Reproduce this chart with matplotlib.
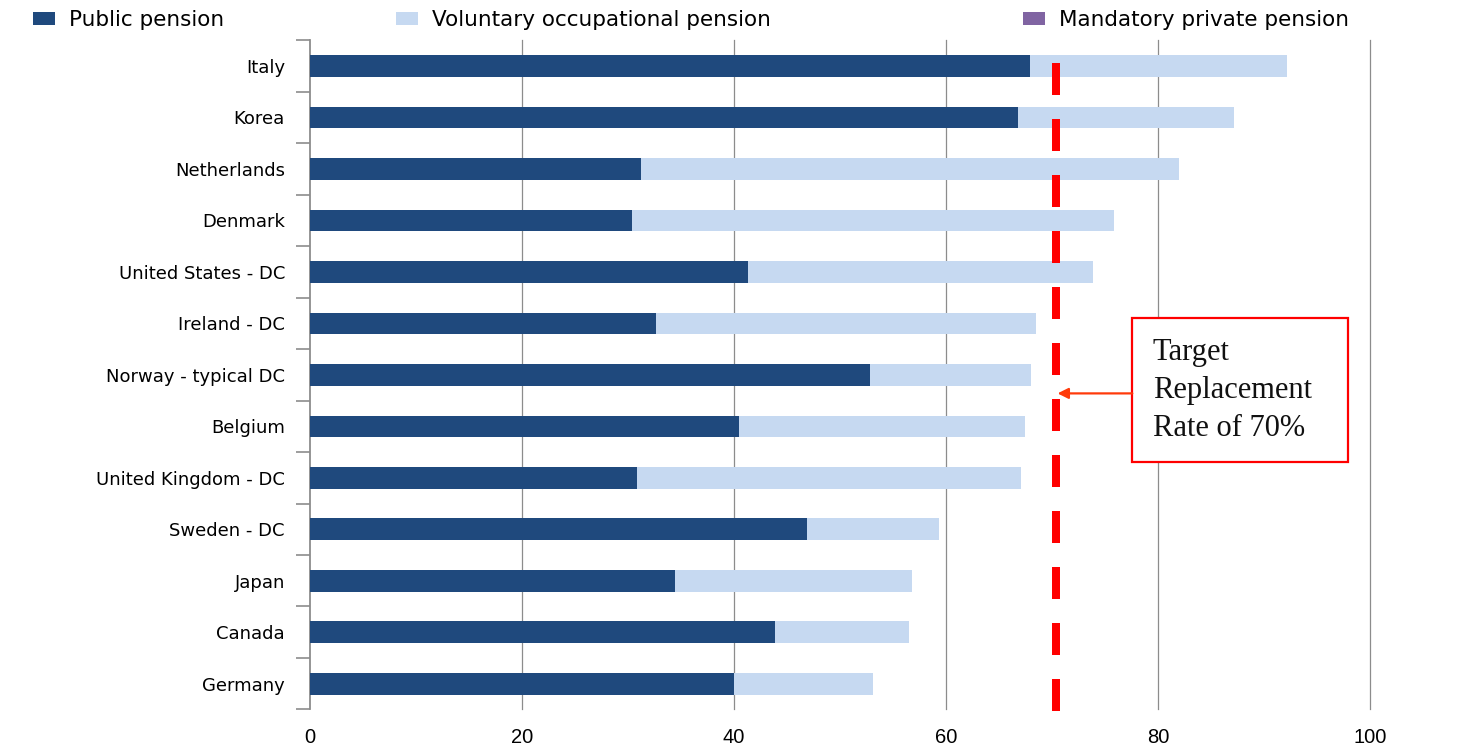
#!/usr/bin/env python3
"""Pension replacement rates by country, stacked horizontal bars with a 70% target line."""

import matplotlib

matplotlib.use("Agg")
import matplotlib.pyplot as plt
import numpy as np
from matplotlib.patches import Rectangle

countries = [
    "Italy",
    "Korea",
    "Netherlands",
    "Denmark",
    "United States - DC",
    "Ireland - DC",
    "Norway - typical DC",
    "Belgium",
    "United Kingdom - DC",
    "Sweden - DC",
    "Japan",
    "Canada",
    "Germany",
]
public = [67.9, 66.8, 31.2, 30.4, 41.3, 32.6, 52.8, 40.5, 30.8, 46.9, 34.4, 43.9, 40.0]
voluntary = [24.2, 20.3, 50.8, 45.4, 32.5, 35.9, 15.2, 26.9, 36.3, 12.4, 22.4, 12.6, 13.1]
mandatory = [0, 0, 0, 0, 0, 0, 0, 0, 0, 0, 0, 0, 0]
target_line_x = 70.4   # where the drawn 70% line sits on the axis
x_ticks = [0, 20, 40, 60, 80, 100]

C_PUBLIC = "#1F497D"
C_VOLUNTARY = "#C6D9F1"
C_MANDATORY = "#8064A2"
GRID = "#8C8C8C"

fig = plt.figure(figsize=(14.81, 7.46), dpi=100)
ax = fig.add_axes([0.2093, 0.049, 0.716, 0.897])

y = np.arange(len(countries))
public = np.array(public)
voluntary = np.array(voluntary)
mandatory = np.array(mandatory)

h = 0.42
b1 = ax.barh(y, public, height=h, color=C_PUBLIC, label="Public pension", zorder=3)
b2 = ax.barh(y, voluntary, left=public, height=h, color=C_VOLUNTARY,
             label="Voluntary occupational pension", zorder=3)
b3 = ax.barh(y, mandatory, left=public + voluntary, height=h, color=C_MANDATORY,
             label="Mandatory private pension", zorder=3)

ax.set_xlim(0, 100)
ax.set_ylim(len(countries) - 0.5, -0.5)

ax.set_xticks(x_ticks)
ax.set_xticklabels([str(t) for t in x_ticks], fontsize=14.5, family="Liberation Sans")
ax.tick_params(axis="x", length=0, pad=13)
ax.xaxis.grid(True, color=GRID, linewidth=0.9, zorder=0)
gls = ax.get_xgridlines()
gls[0].set_visible(False)
for gl in gls:
    gl.set_clip_on(False)

ax.set_yticks(y)
ax.set_yticklabels(countries, fontsize=13, family="DejaVu Sans")
ax.set_yticks(np.arange(len(countries) + 1) - 0.5, minor=True)
ax.tick_params(axis="y", which="major", length=0, pad=18)
ax.tick_params(axis="y", which="minor", length=10, color=GRID, width=1.2, direction="out")

for side in ("top", "right", "bottom"):
    ax.spines[side].set_visible(False)
ax.spines["left"].set_color(GRID)
ax.spines["left"].set_linewidth(1.3)

# target replacement line
ax.axvline(target_line_x, ymin=-0.003, ymax=0.9656, color="#FF0000", linewidth=5.76,
           linestyle=(0, (4.0, 3.0)), dash_capstyle="butt", zorder=4, clip_on=False)

# callout box with arrow
ax.add_patch(Rectangle((77.55, 4.894), 20.35, 2.797, facecolor="white",
                       edgecolor="#FF0000", linewidth=1.6, zorder=5))
ax.annotate(
    "",
    xy=(70.5, 6.36), xytext=(77.55, 6.36),
    arrowprops=dict(arrowstyle="-|>", color="#FF3A0A", lw=1.6, mutation_scale=16,
                    shrinkA=0, shrinkB=0),
    zorder=5,
)
ax.text(
    79.5, 6.3, "Target\nReplacement\nRate of 70%",
    fontsize=22, family="Liberation Serif", color="#111111",
    ha="left", va="center", linespacing=1.4, zorder=6,
)

# legend entries placed across the top
leg_kw = dict(loc="center left", frameon=False, fontsize=15.5, handlelength=1.03,
              handleheight=0.52, handletextpad=0.65, borderaxespad=0, borderpad=0)
for bars, x0 in ((b1, 33), (b2, 396), (b3, 1023)):
    fig.legend(handles=[bars], bbox_to_anchor=(x0 / 1481, 1 - 20 / 746), **leg_kw)

fig.savefig("out.png", dpi=100)
